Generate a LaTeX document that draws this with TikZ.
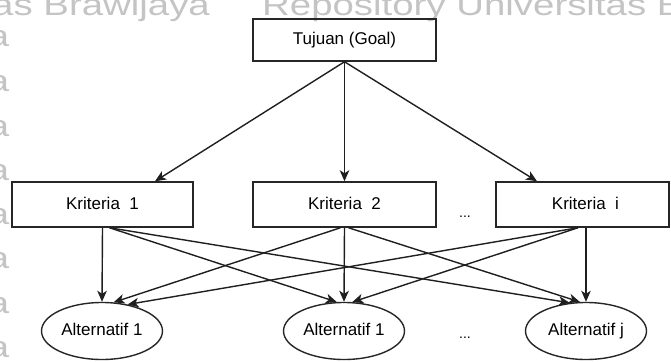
\documentclass[tikz,border=0pt]{standalone}
\usepackage{fontspec}
\setmainfont{Liberation Sans}
\newfontfamily\wmfont[FakeStretch=1.28]{Liberation Sans}
\usetikzlibrary{arrows.meta,shapes.geometric}
\begin{document}
\begin{tikzpicture}[x=1pt,y=-1pt,
  label font/.style={font=\fontsize{17}{20}\selectfont, text height=12.5pt, text depth=3.5pt},
  box/.style={draw=black!85, line width=1.5pt, rectangle, minimum width=#1,
    minimum height=45pt, inner sep=0pt, label font},
  box/.default=181pt,
  alt/.style={draw=black!85, line width=1.4pt, ellipse, minimum width=121pt,
    minimum height=57pt, inner sep=0pt, label font},
  dots/.style={inner sep=0pt, font=\fontsize{14}{16}\selectfont},
  link/.style={draw=black!88, line width=1.4pt,
    -{Stealth[length=11pt,width=9.5pt,inset=3pt]}},
  wm/.style={text=black!23, inner sep=0pt, font=\wmfont\fontsize{30}{30}\selectfont}
]
\useasboundingbox (0,0) rectangle (671,361);

% faint repository watermark in the background
\begin{scope}
  \clip (0,0) rectangle (671,361);
  \node[wm, anchor=base west] (wmA) at (-8,16) {as Brawijaya};
  \node[wm, anchor=base west] (wmB) at (262,16) {Repository Universitas Brawijaya};
  \foreach \yy [count=\n] in {47,91,136,180,224,268,313,357}
    \node[wm, anchor=base east] (wa\n) at (9.5,\yy) {a};
\end{scope}

% goal, criteria and alternatives
\node[box=183pt, minimum height=42pt] (goal) at (344.5,40) {Tujuan (Goal)};
\node[box=181pt] (k1) at (102.5,204.5) {Kriteria\ \ 1};
\node[box=183pt] (k2) at (344.5,204.5) {Kriteria\ \ 2};
\node[box=173pt] (ki) at (582.5,204.5) {\hspace*{6pt}Kriteria\ \ i};
\node[dots] (d1) at (465,217) {...};

\node[alt] (a1) at (102,331) {Alternatif 1};
\node[alt] (a2) at (344,331) {Alternatif 1};
\node[alt] (aj) at (586,331) {Alternatif j};
\node[dots] (d2) at (465,338) {...};

% goal to criteria
\draw[link] (goal.south) -- ([xshift=52.5pt]k1.north);
\draw[link] (goal.south) -- (k2.north);
\draw[link] (goal.south) -- ([xshift=-45.5pt]ki.north);

% criteria to alternatives
\draw[link] (k1.south) -- (a1.north);
\draw[link] ([xshift=7pt]k1.south) -- (a2.104);
\draw[link] ([xshift=7pt]k1.south) -- (aj.120);
\draw[link] ([xshift=-4pt]k2.south) -- (a1.68);
\draw[link] (k2.south) -- (a2.north);
\draw[link] ([xshift=4pt]k2.south) -- (aj.102);
\draw[link] ([xshift=-4.5pt]ki.south) -- (a1.46);
\draw[link] ([xshift=-4.5pt]ki.south) -- (a2.74);
\draw[link] ([xshift=3.5pt]ki.south) -- (aj.north);
\end{tikzpicture}
\end{document}
